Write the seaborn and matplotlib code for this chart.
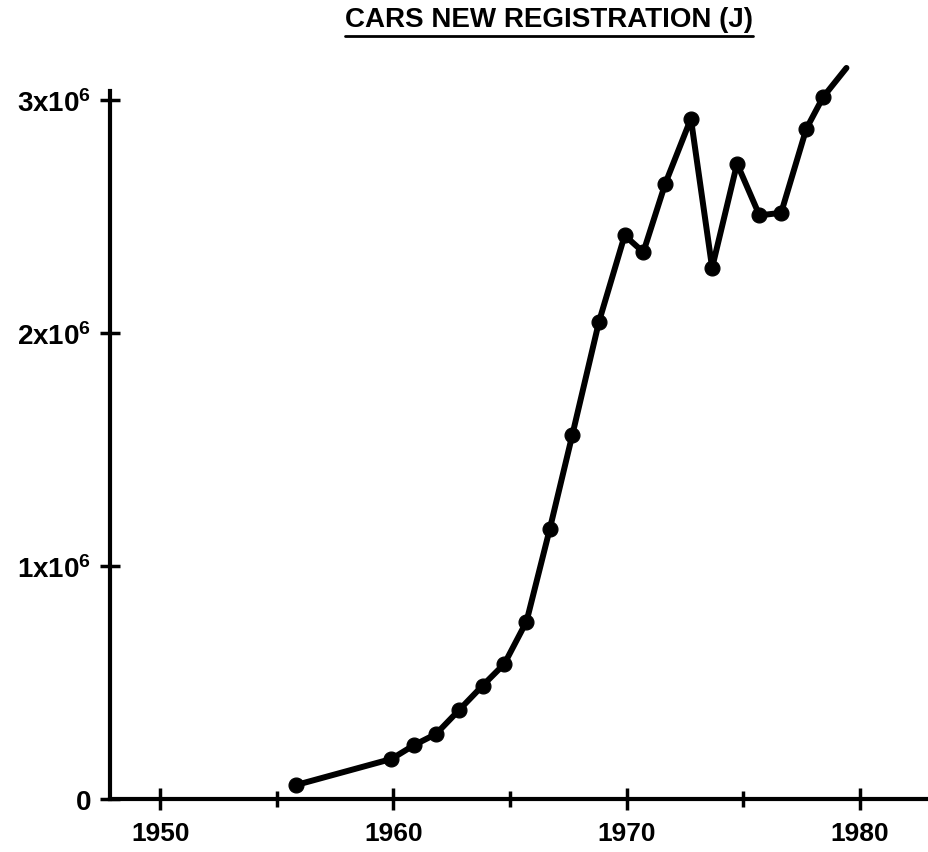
import matplotlib
matplotlib.use("Agg")
import matplotlib.pyplot as plt
from matplotlib.lines import Line2D
from matplotlib.ticker import MultipleLocator
import seaborn as sns
import pandas as pd

# values (year position, registrations)
years = [1955.83, 1959.92, 1960.90, 1961.83, 1962.82, 1963.83, 1964.76, 1965.71,
         1966.71, 1967.67, 1968.82, 1969.92, 1970.72, 1971.66, 1972.76, 1973.67,
         1974.74, 1975.70, 1976.63, 1977.71, 1978.43]
registrations = [0.060e6, 0.172e6, 0.232e6, 0.279e6, 0.382e6, 0.487e6, 0.580e6, 0.762e6,
                 1.160e6, 1.561e6, 2.050e6, 2.420e6, 2.348e6, 2.642e6, 2.921e6, 2.281e6,
                 2.728e6, 2.506e6, 2.517e6, 2.878e6, 3.014e6]
# curve continues a little past the last marker
tail_year = [1979.43]
tail_value = [3.139e6]

x_ticks = [1950, 1960, 1970, 1980]
y_ticks = [0, 1e6, 2e6, 3e6]
y_labels = ["0", r"$\mathregular{1x10^{6}}$", r"$\mathregular{2x10^{6}}$", r"$\mathregular{3x10^{6}}$"]
title = "CARS NEW REGISTRATION (J)"

sns.set_style("white")
plt.rcParams["font.family"] = ["Liberation Sans Narrow", "Liberation Sans", "DejaVu Sans"]
plt.rcParams["font.weight"] = "bold"
plt.rcParams["text.color"] = "black"

points = pd.DataFrame({"year": years, "value": registrations})
curve = pd.DataFrame({"year": years + tail_year, "value": registrations + tail_value})

fig = plt.figure(figsize=(9.29, 8.53), dpi=100)
ax = fig.add_axes([110 / 929, 53 / 853, 1 - 110 / 929, (800 - 92) / 853])

sns.lineplot(data=curve, x="year", y="value", ax=ax, color="black", linewidth=4.3,
             clip_on=False, zorder=3)
sns.scatterplot(data=points, x="year", y="value", ax=ax, color="black", s=115,
                edgecolor="black", clip_on=False, zorder=4)

ax.set_xlim(1947.85, 1982.97)
ax.set_ylim(0, 3.04e6)
ax.set_xticks(x_ticks)
ax.set_xticklabels([str(t) for t in x_ticks])
ax.xaxis.set_minor_locator(MultipleLocator(5))
ax.set_yticks(y_ticks)
ax.set_yticklabels(y_labels)
ax.set_xlabel("")
ax.set_ylabel("")

for side in ["top", "right"]:
    ax.spines[side].set_visible(False)
for side in ["left", "bottom"]:
    ax.spines[side].set_linewidth(3)
    ax.spines[side].set_color("black")

ax.tick_params(axis="x", which="both", bottom=True)
ax.tick_params(axis="y", which="major", left=True)
ax.tick_params(axis="x", which="major", direction="inout", length=16, width=2.5,
               labelsize=19, pad=8, color="black", labelcolor="black")
ax.tick_params(axis="x", which="minor", direction="inout", length=12, width=2.5,
               color="black")
ax.tick_params(axis="y", which="major", direction="inout", length=15, width=2.5,
               labelsize=20, pad=6, color="black", labelcolor="black")
for lab in ax.get_xticklabels() + ax.get_yticklabels():
    lab.set_fontweight("bold")

t = fig.text(549 / 929, 1 - 20 / 853, title, ha="center", va="center",
             fontsize=20, fontweight="bold", color="black")
fig.canvas.draw()
bb = t.get_window_extent().transformed(fig.transFigure.inverted())
uy = bb.y0 - 4 / 853
fig.add_artist(Line2D([bb.x0, bb.x1], [uy, uy], transform=fig.transFigure,
                      color="black", linewidth=2))

fig.savefig("out.png", dpi=100, facecolor="white")
